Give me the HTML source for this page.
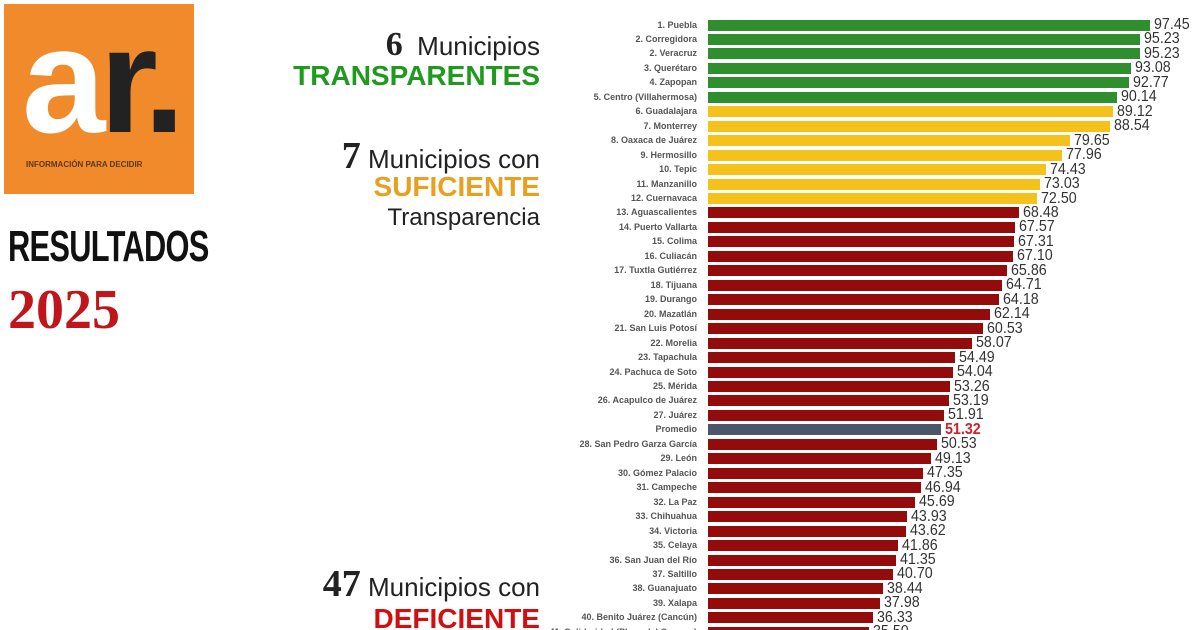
<!DOCTYPE html>
<html><head><meta charset="utf-8"><style>
html,body{margin:0;width:1200px;height:630px;overflow:hidden}
body{background:#fff;font-family:"Liberation Sans",sans-serif;position:relative}
.a{position:absolute}
.lbl{position:absolute;right:503px;font-size:9px;font-weight:bold;color:#555;white-space:nowrap;line-height:11px}
.bar{position:absolute;left:708px;height:11px}
.val{position:absolute;font-size:15.5px;color:#333;line-height:15px;transform:scaleX(0.92);transform-origin:left}
.rt{position:absolute;right:660px;text-align:right;white-space:nowrap;color:#222}
</style></head><body>
<div class="a" style="left:4px;top:4px;width:190px;height:190px;background:#f08a2a"></div>
<div class="a" style="left:22px;top:0px;font-size:150px;font-weight:bold;color:#fff;line-height:160px;letter-spacing:-6px">a<span style="color:#222">r.</span></div>
<div class="a" style="left:26px;top:160px;font-size:8px;font-weight:bold;color:#5a3a1a">INFORMACIÓN PARA DECIDIR</div>
<div class="a" style="left:8px;top:222px;font-size:44px;font-weight:bold;color:#111;transform:scaleX(0.7);transform-origin:left;letter-spacing:-1px">RESULTADOS</div>
<div class="a" style="left:8px;top:278px;font-size:56px;font-weight:900;color:#c0151a;font-family:'Liberation Serif',serif">2025</div>

<div class="rt" style="top:26px;font-size:26px"><b style="font-size:34px;font-family:'Liberation Serif',serif">6</b>&nbsp; Municipios</div>
<div class="rt" style="top:60px;font-size:28px;font-weight:bold;color:#1f9a1f">TRANSPARENTES</div>
<div class="rt" style="top:134px;font-size:26px"><b style="font-size:38px;font-family:'Liberation Serif',serif">7</b> Municipios con</div>
<div class="rt" style="top:171px;font-size:28px;font-weight:bold;color:#e8a020">SUFICIENTE</div>
<div class="rt" style="top:204px;font-size:24px">Transparencia</div>
<div class="rt" style="top:562px;font-size:26px"><b style="font-size:38px;font-family:'Liberation Serif',serif">47</b> Municipios con</div>
<div class="rt" style="top:603px;font-size:28px;font-weight:bold;color:#d01010">DEFICIENTE</div>

<div id="c"></div>
<script>
var d=[["1. Puebla",97.45,"g"],["2. Corregidora",95.23,"g"],["2. Veracruz",95.23,"g"],["3. Querétaro",93.08,"g"],["4. Zapopan",92.77,"g"],["5. Centro (Villahermosa)",90.14,"g"],["6. Guadalajara",89.12,"y"],["7. Monterrey",88.54,"y"],["8. Oaxaca de Juárez",79.65,"y"],["9. Hermosillo",77.96,"y"],["10. Tepic",74.43,"y"],["11. Manzanillo",73.03,"y"],["12. Cuernavaca",72.50,"y"],["13. Aguascalientes",68.48,"r"],["14. Puerto Vallarta",67.57,"r"],["15. Colima",67.31,"r"],["16. Culiacán",67.10,"r"],["17. Tuxtla Gutiérrez",65.86,"r"],["18. Tijuana",64.71,"r"],["19. Durango",64.18,"r"],["20. Mazatlán",62.14,"r"],["21. San Luis Potosí",60.53,"r"],["22. Morelia",58.07,"r"],["23. Tapachula",54.49,"r"],["24. Pachuca de Soto",54.04,"r"],["25. Mérida",53.26,"r"],["26. Acapulco de Juárez",53.19,"r"],["27. Juárez",51.91,"r"],["Promedio",51.32,"p"],["28. San Pedro Garza García",50.53,"r"],["29. León",49.13,"r"],["30. Gómez Palacio",47.35,"r"],["31. Campeche",46.94,"r"],["32. La Paz",45.69,"r"],["33. Chihuahua",43.93,"r"],["34. Victoria",43.62,"r"],["35. Celaya",41.86,"r"],["36. San Juan del Río",41.35,"r"],["37. Saltillo",40.70,"r"],["38. Guanajuato",38.44,"r"],["39. Xalapa",37.98,"r"],["40. Benito Juárez (Cancún)",36.33,"r"],["41. Solidaridad (Playa del Carmen)",35.50,"r"]];
var col={g:"#2f8f2f",y:"#f5c21b",r:"#930b0b",p:"#4b566d"};
var h="";
d.forEach(function(r,i){var cy=25+i*14.46;var w=r[1]*4.54;
h+='<div class="lbl" style="top:'+(cy-5.5)+'px">'+r[0]+'</div>';
h+='<div class="bar" style="top:'+(cy-5.5)+'px;width:'+w+'px;background:'+col[r[2]]+'"></div>';
h+='<div class="val" style="top:'+(cy-8)+'px;left:'+(712+w)+'px;'+(r[2]=="p"?'color:#d0202a;font-weight:bold':'')+'">'+r[1].toFixed(2)+'</div>';});
document.getElementById("c").innerHTML=h;
</script>
</body></html>
